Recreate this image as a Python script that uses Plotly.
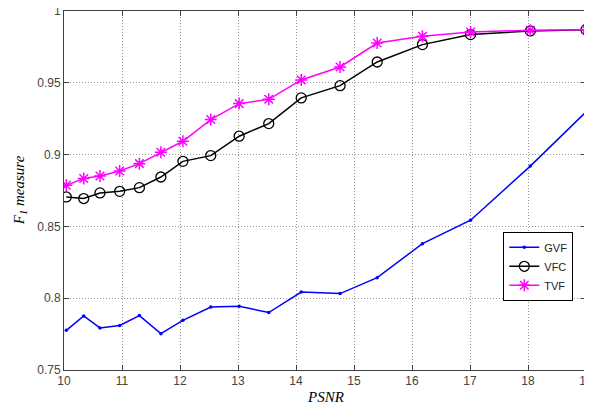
import plotly.graph_objects as go

gvf_x = [10.04, 10.34, 10.62, 10.96, 11.30, 11.67, 12.05, 12.53, 13.02, 13.53, 14.09, 14.76, 15.40, 16.18, 17.01, 18.04, 19.0]
gvf_y = [0.7776, 0.7876, 0.7793, 0.7810, 0.7879, 0.7753, 0.7846, 0.7939, 0.7944, 0.7900, 0.8043, 0.8032, 0.8143, 0.8380, 0.8543, 0.8920, 0.9297]

vfc_x = [10.04, 10.34, 10.62, 10.96, 11.30, 11.67, 12.05, 12.53, 13.02, 13.53, 14.09, 14.76, 15.40, 16.18, 17.01, 18.04, 19.0]
vfc_y = [0.8705, 0.8694, 0.8733, 0.8744, 0.8770, 0.8844, 0.8953, 0.8993, 0.9128, 0.9216, 0.9395, 0.9480, 0.9645, 0.9766, 0.9836, 0.9861, 0.9870]

tvf_x = [10.04, 10.34, 10.62, 10.96, 11.30, 11.67, 12.05, 12.53, 13.02, 13.53, 14.09, 14.76, 15.40, 16.18, 17.01, 18.04, 19.0]
tvf_y = [0.8786, 0.8833, 0.8851, 0.8886, 0.8937, 0.9016, 0.9093, 0.9244, 0.9355, 0.9385, 0.9520, 0.9610, 0.9777, 0.9824, 0.9854, 0.9866, 0.9870]

x_ticks = [10, 11, 12, 13, 14, 15, 16, 17, 18, 19]
y_ticks = [0.75, 0.8, 0.85, 0.9, 0.95, 1]
y_tick_labels = ["0.75", "0.8", "0.85", "0.9", "0.95", "1"]

fig = go.Figure()
fig.add_trace(go.Scatter(x=gvf_x, y=gvf_y, name="GVF", mode="lines+markers",
                         line=dict(color="#0000ff", width=1.5),
                         marker=dict(symbol="circle", size=3.5, color="#0000ff")))
fig.add_trace(go.Scatter(x=vfc_x, y=vfc_y, name="VFC", mode="lines+markers",
                         line=dict(color="#000000", width=1.5),
                         marker=dict(symbol="circle-open", size=10, color="#000000",
                                     line=dict(width=1.3, color="#000000"))))
fig.add_trace(go.Scatter(x=tvf_x, y=tvf_y, name="TVF", mode="lines+markers",
                         line=dict(color="#ff00ff", width=1.5),
                         marker=dict(symbol="asterisk-open", size=10, color="#ff00ff",
                                     line=dict(width=1.5, color="#ff00ff"))))

axis_common = dict(showline=True, linecolor="#404040", linewidth=1, mirror="ticks",
                   ticks="inside", ticklen=5, tickcolor="#404040",
                   showgrid=True, gridcolor="#999999", griddash="1px,2px", gridwidth=1,
                   zeroline=False, automargin=False, ticklabeloverflow="allow",
                   tickfont=dict(family="Liberation Sans, Arial", size=12, color="#444444"))

fig.update_layout(
    width=584, height=398,
    margin=dict(l=56, r=6, t=3, b=36),
    paper_bgcolor="white", plot_bgcolor="white",
    showlegend=True,
    legend=dict(x=0.8416, y=0.385, xanchor="left", yanchor="top",
                bordercolor="#000000", borderwidth=1, bgcolor="white",
                font=dict(family="Liberation Sans, Arial", size=11, color="#222222"),
                tracegroupgap=0, itemwidth=30),
    xaxis=dict(range=[10, 19], tickvals=x_ticks, **axis_common),
    yaxis=dict(range=[0.75, 1], tickvals=y_ticks, ticktext=y_tick_labels, **axis_common),
    annotations=[
        dict(text="<i>PSNR</i>", xref="paper", yref="paper", x=0.5, y=-0.076,
             xanchor="center", yanchor="middle", showarrow=False,
             font=dict(family="Liberation Serif, Times New Roman", size=15, color="#000000")),
        dict(text="<i>F<sub>1</sub> measure</i>", xref="paper", yref="paper", x=-0.085, y=0.5,
             xanchor="center", yanchor="middle", showarrow=False, textangle=-90,
             font=dict(family="Liberation Serif, Times New Roman", size=15, color="#000000")),
    ],
)

fig.write_html("out.html")
